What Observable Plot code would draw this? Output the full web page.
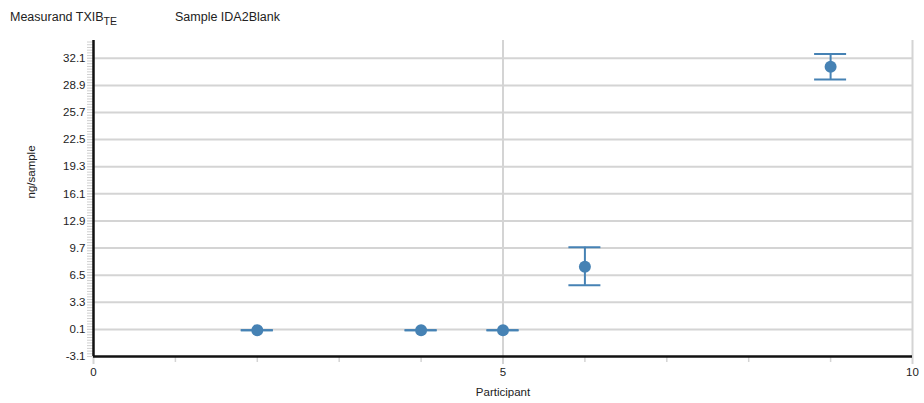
<!DOCTYPE html>
<html>
<head>
<meta charset="utf-8">
<script src="https://cdn.jsdelivr.net/npm/d3@7"></script>
<script src="https://cdn.jsdelivr.net/npm/@observablehq/plot@0.6"></script>
<style>
  body { margin: 0; background: #fff; font-family: "Liberation Sans", Arial, sans-serif; }
  #wrap { position: relative; width: 924px; height: 403px; }
  .title { position: absolute; top: 10px; font-size: 12.5px; color: #222; white-space: pre; }
  .title sub { font-size: 10.5px; vertical-align: -4px; line-height: 0; }
</style>
</head>
<body>
<div id="wrap">
  <div id="t1" class="title" style="left:10px"></div>
  <div id="t2" class="title" style="left:175px"></div>
</div>
<script>
const measurand = "TXIB";
const measurandSub = "TE";
const sampleName = "IDA2Blank";
const participants = [2, 4, 5, 6, 9];
const values = [0, 0, 0, 7.5, 31.1];
const lows = [0, 0, 0, 5.3, 29.6];
const highs = [0, 0, 0, 9.8, 32.6];
const yTicks = [-3.1, 0.1, 3.3, 6.5, 9.7, 12.9, 16.1, 19.3, 22.5, 25.7, 28.9, 32.1];
const xTicks = [0, 5, 10];
const xMinorTicks = [1, 2, 3, 4, 6, 7, 8, 9];
const yMinorTicks = d3.range(-31, 343, 3.2).map(v => +(v / 10).toFixed(2));

document.getElementById("t1").innerHTML = `Measurand ${measurand}<sub>${measurandSub}</sub>`;
document.getElementById("t2").textContent = `Sample ${sampleName}`;

const data = participants.map((p, i) => ({p, v: values[i], lo: lows[i], hi: highs[i]}));
const blue = "#4682b4";
const gray = "#d4d4d4";

const chart = Plot.plot({
  width: 924,
  height: 403,
  marginLeft: 93,
  marginRight: 12,
  marginTop: 40,
  marginBottom: 47,
  style: {fontFamily: "'Liberation Sans', Arial, sans-serif", fontSize: "11.5px", color: "#222"},
  x: {domain: [0, 10]},
  y: {domain: [-3.1, 34.2]},
  marks: [
    Plot.gridY(yTicks.slice(1), {stroke: gray, strokeOpacity: 1, strokeWidth: 2}),
    Plot.gridX([5, 10], {stroke: gray, strokeOpacity: 1, strokeWidth: 2}),
    Plot.axisY(yMinorTicks, {tickSize: 6, text: null, stroke: "#cfcfcf", strokeWidth: 1, label: null}),
    Plot.axisY(yTicks, {tickSize: 6, tickPadding: 2, stroke: gray, strokeWidth: 1, fill: "#222",
      tickFormat: d => d.toFixed(1), label: null}),
    Plot.axisX(xMinorTicks, {tickSize: 6, text: null, stroke: gray, strokeWidth: 1.5, label: null}),
    Plot.axisX(xTicks, {tickSize: 8, tickPadding: 3, stroke: gray, strokeWidth: 2, fill: "#222",
      tickFormat: d => String(d), label: null}),
    Plot.text(["ng/sample"], {frameAnchor: "left", dx: -62, rotate: -90, fontSize: 11.5, fill: "#222"}),
    Plot.text(["Participant"], {frameAnchor: "bottom", dy: 39, fontSize: 11.5, fill: "#222"}),
    Plot.ruleX([0], {stroke: "#111", strokeWidth: 2.5}),
    Plot.ruleY([-3.1], {stroke: "#111", strokeWidth: 2.5}),
    Plot.ruleX(data, {x: "p", y1: "lo", y2: "hi", stroke: blue, strokeWidth: 2}),
    Plot.ruleY(data, {y: "lo", x1: "p", x2: "p", insetLeft: -16, insetRight: -16, stroke: blue, strokeWidth: 2}),
    Plot.ruleY(data, {y: "hi", x1: "p", x2: "p", insetLeft: -16, insetRight: -16, stroke: blue, strokeWidth: 2}),
    Plot.dot(data, {x: "p", y: "v", r: 6, fill: blue, stroke: "none"})
  ]
});
document.getElementById("wrap").prepend(chart);
</script>
</body>
</html>
